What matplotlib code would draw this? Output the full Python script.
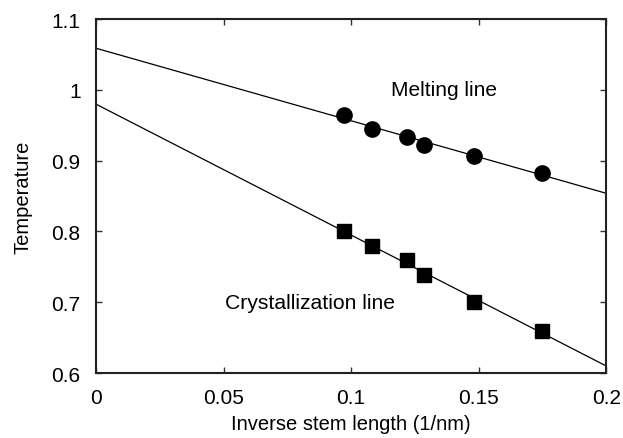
import matplotlib
matplotlib.use("Agg")
import matplotlib.pyplot as plt
import numpy as np

plt.rcParams['font.family'] = ['Liberation Sans', 'DejaVu Sans']

x_pts = [0.0973, 0.1084, 0.1221, 0.1284, 0.148, 0.1748]
melt_pts = [0.965, 0.945, 0.934, 0.922, 0.907, 0.882]
cryst_pts = [0.800, 0.780, 0.760, 0.739, 0.700, 0.660]
line_x = [0.0, 0.2]
melt_line = [1.059, 0.854]
cryst_line = [0.980, 0.610]
xticks = [0, 0.05, 0.1, 0.15, 0.2]
xticklabels = ['0', '0.05', '0.1', '0.15', '0.2']
yticks = [0.6, 0.7, 0.8, 0.9, 1.0, 1.1]
yticklabels = ['0.6', '0.7', '0.8', '0.9', '1', '1.1']

fig = plt.figure(figsize=(6.23, 4.39), dpi=100)
ax = fig.add_axes([0.154, 0.148, 0.819, 0.806])

ax.plot(line_x, melt_line, color='black', lw=0.9)
ax.plot(line_x, cryst_line, color='black', lw=0.9)
ax.plot(x_pts, melt_pts, 'o', color='black', markersize=11, linestyle='none')
ax.plot(x_pts, cryst_pts, 's', color='black', markersize=10.5, linestyle='none')

ax.text(0.1363, 1.0, 'Melting line', ha='center', va='center', fontsize=15)
ax.text(0.0839, 0.699, 'Crystallization line', ha='center', va='center', fontsize=15.2)

ax.set_xlim(0, 0.2)
ax.set_ylim(0.6, 1.1)
ax.set_xticks(xticks)
ax.set_xticklabels(xticklabels)
ax.set_yticks(yticks)
ax.set_yticklabels(yticklabels)
ax.tick_params(direction='in', top=True, right=True, labelsize=15, length=4, width=1, colors='#333333', labelcolor='black', pad=11)
for s in ax.spines.values():
    s.set_linewidth(1.5)
    s.set_color('#222222')
ax.set_xlabel('Inverse stem length (1/nm)', fontsize=14.5, labelpad=5)
ax.set_ylabel('Temperature', fontsize=14.5, labelpad=14)

fig.savefig('out.png', dpi=100)
